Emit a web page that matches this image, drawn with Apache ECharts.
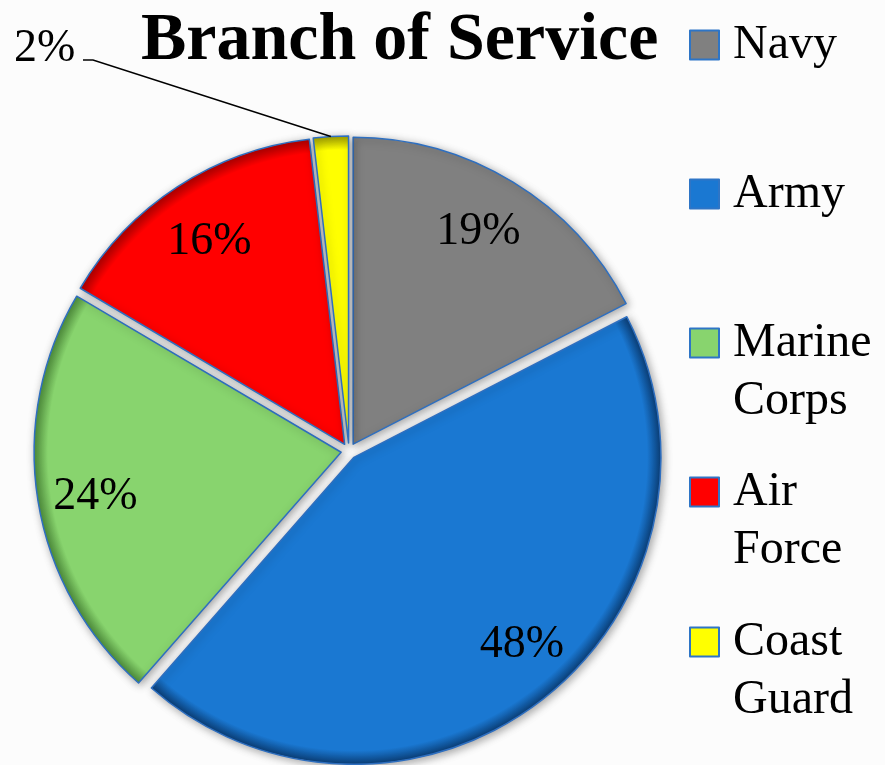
<!DOCTYPE html>
<html>
<head>
<meta charset="utf-8">
<title>Branch of Service</title>
<script src="https://cdn.jsdelivr.net/npm/echarts@6/dist/echarts.min.js"></script>
<style>
  html, body { margin: 0; padding: 0; background: #fcfcfc; }
  #chart { width: 885px; height: 765px; }
</style>
</head>
<body>
<div id="chart"></div>
<script>
// Service branches, shares (percent) and slice colours
const branches = ['Navy', 'Army', 'Marine Corps', 'Air Force', 'Coast Guard'];
const shares = [19, 48, 24, 16, 2];
const colors = ['#808080', '#1a78d2', '#88d46e', '#ff0000', '#ffff00'];
const rimColors = ['#808080', '#0b3f78', '#4f8f3c', '#b00000', '#a0a000'];
// Legend captions, wrapped the way they are shown
const legendCaptions = ['Navy', 'Army', 'Marine\nCorps', 'Air\nForce', 'Coast\nGuard'];

const FONT = '"Liberation Serif", "Times New Roman", serif';
const CENTER = [349, 451];
const RADIUS = 307;
const OFFSET = 8;
const LINE_H = 58;

// fine placement of the percentage labels inside their slices: [dx, dy]
const labelNudge = [[0, -7], [20, -2], [-8, 7], [-4, -1], [0, 0]];

function rimFill(i) {
  return {
    type: 'radial', x: CENTER[0], y: CENTER[1], r: RADIUS, global: true,
    colorStops: [
      { offset: 0, color: colors[i] },
      { offset: 0.955, color: colors[i] },
      { offset: 1, color: rimColors[i] }
    ]
  };
}

// exploded slices
const sliceData = branches.map((name, i) => ({
  name,
  value: shares[i],
  selected: true,
  itemStyle: { color: i === 0 ? colors[i] : rimFill(i) }
}));

// transparent ring that carries the inner percentage labels
const labelData = branches.map((name, i) => ({
  name,
  value: shares[i],
  label: { show: i !== 4 }
}));

// transparent disc for the small slice's outside label and its leader
const calloutData = branches.map((name, i) => ({
  name,
  value: shares[i],
  label: { show: i === 4 },
  labelLine: { show: i === 4 }
}));

// one legend block per branch, each on its own row
const legendCenters = [45, 194, 343, 492, 642];
const legends = branches.map((name, i) => {
  const twoLines = legendCaptions[i].indexOf('\n') >= 0;
  return {
    data: [name],
    orient: 'vertical',
    left: 689,
    top: twoLines ? legendCenters[i] - LINE_H * 1.5 : legendCenters[i] - LINE_H / 2,
    padding: 0,
    icon: 'rect',
    itemWidth: 29,
    itemHeight: 29,
    itemGap: 0,
    selectedMode: false,
    // an empty leading line keeps the first caption line level with the swatch
    formatter: () => (twoLines ? ' \n' : '') + legendCaptions[i],
    itemStyle: { color: colors[i], borderColor: '#2e75c6', borderWidth: 2 },
    textStyle: {
      fontFamily: FONT,
      fontSize: 48,
      color: '#000',
      lineHeight: LINE_H,
      padding: [0, 0, 0, 9]
    }
  };
});

const chart = echarts.init(document.getElementById('chart'), null, { renderer: 'canvas' });
chart.setOption({
  animation: false,
  backgroundColor: '#fcfcfc',
  title: {
    text: 'Branch of Service',
    left: 136,
    top: 2,
    textStyle: { fontFamily: FONT, fontSize: 68, fontWeight: 'bold', color: '#000' }
  },
  legend: legends,
  series: [
    {
      type: 'pie',
      center: CENTER,
      radius: [0, RADIUS],
      startAngle: 90,
      clockwise: true,
      selectedMode: 'multiple',
      selectedOffset: OFFSET,
      silent: true,
      itemStyle: {
        borderColor: '#2e6fc0',
        borderWidth: 1.5,
        shadowBlur: 8,
        shadowOffsetX: 2,
        shadowOffsetY: 2,
        shadowColor: 'rgba(0,0,0,0.35)'
      },
      label: { show: false },
      labelLine: { show: false },
      data: sliceData
    },
    {
      type: 'pie',
      center: CENTER,
      radius: [RADIUS * 0.6, RADIUS],
      startAngle: 90,
      clockwise: true,
      silent: true,
      z: 5,
      itemStyle: { color: 'rgba(0,0,0,0)', borderWidth: 0 },
      label: {
        position: 'inside',
        formatter: '{c}%',
        fontFamily: FONT,
        fontSize: 46,
        color: '#000'
      },
      labelLine: { show: false },
      labelLayout: function (params) {
        const n = labelNudge[params.dataIndex];
        return { dx: n[0], dy: n[1] };
      },
      data: labelData
    },
    {
      type: 'pie',
      center: CENTER,
      radius: [0, RADIUS + OFFSET],
      startAngle: 90,
      clockwise: true,
      silent: true,
      z: 6,
      itemStyle: { color: 'rgba(0,0,0,0)', borderWidth: 0 },
      label: {
        position: 'outside',
        formatter: '{c}%',
        fontFamily: FONT,
        fontSize: 46,
        color: '#000'
      },
      labelLine: { lineStyle: { color: '#000', width: 1.5 } },
      labelLayout: function (params) {
        if (params.dataIndex !== 4 || !params.labelLinePoints) return {};
        const start = params.labelLinePoints[0];
        return {
          x: 14,
          y: 49,
          align: 'left',
          verticalAlign: 'middle',
          labelLinePoints: [start, [93, 60], [83, 60]]
        };
      },
      data: calloutData
    }
  ]
});
</script>
</body>
</html>
